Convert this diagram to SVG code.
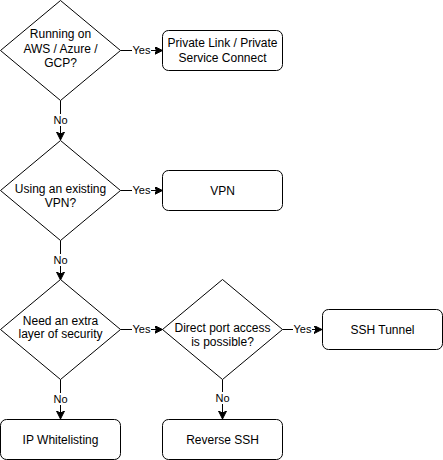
<svg xmlns="http://www.w3.org/2000/svg" width="443" height="460" viewBox="0 0 443 460">
<style>
.shape{fill:#ffffff;stroke:#000000;stroke-width:1}
.edge{fill:none;stroke:#000000;stroke-width:1}
.t{font-family:"Liberation Sans",Arial,sans-serif;font-size:12px;fill:#000000;text-anchor:middle}
.lbl{font-family:"Liberation Sans",Arial,sans-serif;font-size:11px;fill:#000000;text-anchor:middle}
.lblbg{fill:#ffffff;stroke:none}
</style>
<defs>
<marker id="arr" markerUnits="userSpaceOnUse" markerWidth="10" markerHeight="10" refX="8" refY="4" orient="auto">
<path d="M0,0 L8,4 L0,8 L2,4 Z" fill="#000000" stroke="#000000" stroke-width="1"/>
</marker>
</defs>
<rect width="443" height="460" fill="#ffffff"/>
<g id="connectors">
<path class="edge" d="M120.5,50.5 L162.5,50.5" marker-end="url(#arr)"/>
<path class="edge" d="M60.5,100.5 L60.5,140" marker-end="url(#arr)"/>
<path class="edge" d="M120.5,190.5 L162.5,190.5" marker-end="url(#arr)"/>
<path class="edge" d="M60.5,240.5 L60.5,280" marker-end="url(#arr)"/>
<path class="edge" d="M120.5,329.5 L162.5,329.5" marker-end="url(#arr)"/>
<path class="edge" d="M282.5,329.5 L322,329.5" marker-end="url(#arr)"/>
<path class="edge" d="M60.5,379.5 L60.5,419" marker-end="url(#arr)"/>
<path class="edge" d="M222.5,379.5 L222.5,419" marker-end="url(#arr)"/>
<g id="edge-labels">
<rect class="lblbg" x="132" y="44" width="19" height="12"/>
<text class="lbl" x="141.5" y="54">Yes</text>
<rect class="lblbg" x="53" y="114" width="15" height="12"/>
<text class="lbl" x="60.5" y="124">No</text>
<rect class="lblbg" x="132" y="184" width="19" height="12"/>
<text class="lbl" x="141.5" y="194">Yes</text>
<rect class="lblbg" x="53" y="254" width="15" height="12"/>
<text class="lbl" x="60.5" y="264">No</text>
<rect class="lblbg" x="132" y="323" width="19" height="12"/>
<text class="lbl" x="141.5" y="333">Yes</text>
<rect class="lblbg" x="293" y="323" width="19" height="12"/>
<text class="lbl" x="302.5" y="333">Yes</text>
<rect class="lblbg" x="53" y="393" width="15" height="12"/>
<text class="lbl" x="60.5" y="403">No</text>
<rect class="lblbg" x="215" y="392" width="15" height="12"/>
<text class="lbl" x="222.5" y="402">No</text>
</g>
</g>
<g id="d1">
<path class="shape" d="M60.5,0.5 L120.5,50.5 L60.5,100.5 L0.5,50.5 Z"/>
<text class="t" x="60.5" y="38">Running on</text>
<text class="t" x="60.5" y="52.5">AWS / Azure /</text>
<text class="t" x="60.5" y="67">GCP?</text>
</g>
<g id="b1">
<rect class="shape" x="162.5" y="30.5" width="120" height="40" rx="6" ry="6"/>
<text class="t" x="222.5" y="47">Private Link / Private</text>
<text class="t" x="222.5" y="61.5">Service Connect</text>
</g>
<g id="d2">
<path class="shape" d="M60.5,140.5 L120.5,190.5 L60.5,240.5 L0.5,190.5 Z"/>
<text class="t" x="60.5" y="193">Using an existing</text>
<text class="t" x="60.5" y="207">VPN?</text>
</g>
<g id="b2">
<rect class="shape" x="162.5" y="170.5" width="120" height="40" rx="6" ry="6"/>
<text class="t" x="222.5" y="194.5">VPN</text>
</g>
<g id="d3">
<path class="shape" d="M60.5,279.5 L120.5,329.5 L60.5,379.5 L0.5,329.5 Z"/>
<text class="t" x="60.5" y="324.5">Need an extra</text>
<text class="t" x="60.5" y="338">layer of security</text>
</g>
<g id="d4">
<path class="shape" d="M222.5,279.5 L282.5,329.5 L222.5,379.5 L162.5,329.5 Z"/>
<text class="t" x="222.5" y="331.5">Direct port access</text>
<text class="t" x="222.5" y="345.5">is possible?</text>
</g>
<g id="b3">
<rect class="shape" x="322.5" y="309.5" width="120" height="40" rx="6" ry="6"/>
<text class="t" x="382.5" y="333.5">SSH Tunnel</text>
</g>
<g id="b4">
<rect class="shape" x="0.5" y="419.5" width="120" height="40" rx="6" ry="6"/>
<text class="t" x="60.5" y="443.5">IP Whitelisting</text>
</g>
<g id="b5">
<rect class="shape" x="162.5" y="419.5" width="120" height="40" rx="6" ry="6"/>
<text class="t" x="222.5" y="443.5">Reverse SSH</text>
</g>
</svg>
